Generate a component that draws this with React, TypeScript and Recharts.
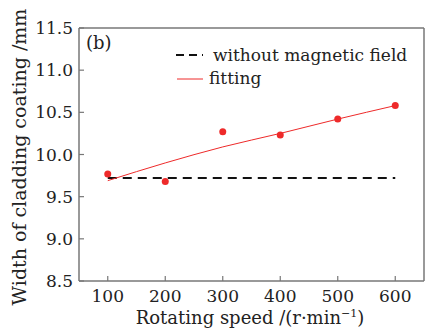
import {
  ComposedChart,
  Line,
  Scatter,
  XAxis,
  YAxis,
  ReferenceLine,
} from "recharts";

const speeds = [100, 200, 300, 400, 500, 600];
const measuredWidth = [9.77, 9.68, 10.27, 10.23, 10.42, 10.58];
const fittingWidth = [9.69, 9.9, 10.09, 10.25, 10.42, 10.58];
const baselineSpeeds = [100, 600];
const baselineWidth = [9.72, 9.72];
const xTicks = [100, 200, 300, 400, 500, 600];
const yTicks = [8.5, 9.0, 9.5, 10.0, 10.5, 11.0, 11.5];

const FONT = "DejaVu Serif";
const FRAME = "#777";
const RED = "#ee2a2a";

const measured = speeds.map((x, i) => ({ x, y: measuredWidth[i] }));
const fitting = speeds.map((x, i) => ({ x, y: fittingWidth[i] }));
const baseline = baselineSpeeds.map((x, i) => ({ x, y: baselineWidth[i] }));

function XTick(props: any) {
  const { x, y, payload } = props;
  return (
    <g>
      <line x1={x} x2={x} y1={y} y2={y - 5} stroke={FRAME} strokeWidth={1.2} />
      <text x={x} y={y + 21} textAnchor="middle" fontFamily={FONT} fontSize={17} fill="#222">
        {payload.value}
      </text>
    </g>
  );
}

function YTick(props: any) {
  const { x, y, payload } = props;
  return (
    <g>
      <line x1={x} x2={x + 5} y1={y} y2={y} stroke={FRAME} strokeWidth={1.2} />
      <text x={x - 6} y={y + 6} textAnchor="end" fontFamily={FONT} fontSize={17} fill="#222">
        {Number(payload.value).toFixed(1)}
      </text>
    </g>
  );
}

function Dot(props: any) {
  const { cx, cy } = props;
  return <circle cx={cx} cy={cy} r={3.5} fill={RED} />;
}

export default function App() {
  return (
    <div style={{ position: "absolute", left: 0, top: 0, width: 426, height: 331, background: "#fff" }}>
      <ComposedChart width={426} height={331} margin={{ top: 28, right: 2, bottom: 0, left: 0 }}>
        <XAxis
          dataKey="x"
          type="number"
          domain={[50, 650]}
          ticks={xTicks}
          allowDataOverflow
          height={50}
          tickSize={0}
          tickMargin={0}
          tickLine={false}
          tick={<XTick />}
          stroke={FRAME}
          strokeWidth={1.5}
          label={{
            content: () => (
              <text x={250} y={324} textAnchor="middle" fontFamily={FONT} fontSize={18} fill="#222">
                Rotating speed /(r·min
                <tspan dy={-7} fontSize={11}>−1</tspan>
                <tspan dy={7}>)</tspan>
              </text>
            ),
          }}
        />
        <YAxis
          dataKey="y"
          type="number"
          domain={[8.5, 11.5]}
          ticks={yTicks}
          allowDataOverflow
          width={79}
          tickSize={0}
          tickMargin={0}
          tickLine={false}
          tick={<YTick />}
          stroke={FRAME}
          strokeWidth={1.5}
          label={{
            content: () => (
              <text
                x={0}
                y={0}
                transform="translate(26,157) rotate(-90)"
                textAnchor="middle"
                fontFamily={FONT}
                fontSize={19}
                fill="#222"
              >
                Width of cladding coating /mm
              </text>
            ),
          }}
        />
        <ReferenceLine y={11.5} stroke={FRAME} strokeWidth={1.5} />
        <ReferenceLine x={650} stroke={FRAME} strokeWidth={1.5} />
        <Line
          data={baseline}
          dataKey="y"
          stroke="#111"
          strokeWidth={2}
          strokeDasharray="9 6"
          dot={false}
          isAnimationActive={false}
        />
        <Line
          data={fitting}
          dataKey="y"
          type="monotone"
          stroke={RED}
          strokeWidth={1}
          dot={false}
          isAnimationActive={false}
        />
        <Scatter data={measured} dataKey="y" shape={<Dot />} isAnimationActive={false} />
      </ComposedChart>
      <svg width={426} height={331} style={{ position: "absolute", left: 0, top: 0, pointerEvents: "none" }}>
        <text x={86} y={49} fontFamily={FONT} fontSize={18} fill="#222">
          (b)
        </text>
        <line x1={176} x2={203} y1={55} y2={55} stroke="#111" strokeWidth={2} strokeDasharray="8 5" />
        <text x={213} y={61} fontFamily={FONT} fontSize={17} fill="#222">
          without magnetic field
        </text>
        <line x1={177} x2={203} y1={79} y2={79} stroke={RED} strokeWidth={1} />
        <text x={209} y={84} fontFamily={FONT} fontSize={17} fill="#222">
          fitting
        </text>
      </svg>
    </div>
  );
}
